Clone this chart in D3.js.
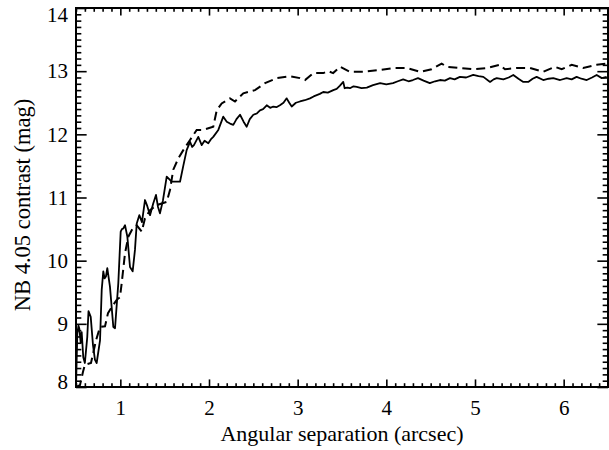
<!DOCTYPE html>
<html>
<head>
<meta charset="utf-8">
<script src="https://cdn.jsdelivr.net/npm/d3@7"></script>
<style>
  body { margin: 0; background: #fff; }
  svg { display: block; font-family: "Liberation Serif", "Times New Roman", serif; }
</style>
</head>
<body>
<svg id="chart" width="609" height="450"></svg>
<script>
// solid curve: separation (arcsec) / contrast (mag)
const solidSep = [0.50, 0.515, 0.528, 0.537, 0.553, 0.564, 0.582, 0.60, 0.627, 0.641, 0.666, 0.692, 0.714, 0.733,
  0.771, 0.79, 0.808, 0.822, 0.838, 0.853, 0.883, 0.921, 0.94, 0.977, 1.004, 1.018, 1.033, 1.053, 1.079, 1.109,
  1.139, 1.165, 1.185, 1.214, 1.244, 1.278, 1.30, 1.335, 1.37, 1.402, 1.425, 1.447, 1.48, 1.523, 1.579, 1.62,
  1.673, 1.71, 1.748, 1.786, 1.81, 1.83, 1.879, 1.918, 1.95, 1.992, 2.02, 2.048, 2.105, 2.161, 2.20, 2.237, 2.274,
  2.31, 2.35, 2.39, 2.425, 2.46, 2.50, 2.54, 2.575, 2.61, 2.651, 2.69, 2.725, 2.76, 2.80, 2.84, 2.876, 2.905,
  2.933, 2.98, 3.026, 3.08, 3.139, 3.18, 3.215, 3.25, 3.289, 3.34, 3.402, 3.44, 3.477, 3.514, 3.53, 3.56, 3.59,
  3.63, 3.666, 3.72, 3.78, 3.85, 3.93, 4.00, 4.075, 4.13, 4.19, 4.25, 4.30, 4.357, 4.42, 4.49, 4.55, 4.605, 4.66,
  4.718, 4.77, 4.83, 4.90, 4.98, 5.04, 5.094, 5.17, 5.21, 5.245, 5.32, 5.38, 5.432, 5.49, 5.545, 5.60, 5.65,
  5.695, 5.77, 5.83, 5.883, 5.96, 6.034, 6.09, 6.146, 6.20, 6.26, 6.32, 6.372, 6.43, 6.485];
const solidMag = [8.00, 8.85, 8.97, 8.93, 8.70, 8.87, 8.47, 8.38, 8.79, 9.20, 9.11, 8.66, 8.43, 8.38,
  8.74, 9.54, 9.83, 9.72, 9.75, 9.88, 9.59, 8.95, 8.93, 9.64, 10.46, 10.50, 10.51, 10.56, 10.38, 9.90,
  9.83, 10.17, 10.59, 10.72, 10.61, 10.96, 10.88, 10.72, 10.90, 11.04, 10.85, 10.75, 10.95, 11.33, 11.25, 11.25,
  11.25, 11.50, 11.75, 11.88, 11.80, 11.83, 11.96, 11.83, 11.90, 11.86, 11.92, 11.96, 12.07, 12.28, 12.20, 12.17, 12.15,
  12.24, 12.31, 12.20, 12.12, 12.24, 12.31, 12.33, 12.38, 12.40, 12.46, 12.42, 12.44, 12.43, 12.46, 12.50, 12.57, 12.50,
  12.44, 12.50, 12.52, 12.54, 12.57, 12.60, 12.62, 12.64, 12.67, 12.66, 12.70, 12.72, 12.77, 12.83, 12.73, 12.74, 12.73,
  12.76, 12.75, 12.73, 12.74, 12.78, 12.81, 12.79, 12.81, 12.84, 12.87, 12.84, 12.86, 12.89, 12.85, 12.81, 12.84, 12.86, 12.85,
  12.89, 12.87, 12.91, 12.90, 12.94, 12.92, 12.91, 12.83, 12.87, 12.89, 12.87, 12.90, 12.94, 12.88, 12.83, 12.83, 12.88,
  12.91, 12.86, 12.88, 12.89, 12.86, 12.89, 12.87, 12.91, 12.88, 12.86, 12.90, 12.94, 12.89, 12.91];

// dashed curve
const dashSep = [0.50, 0.545, 0.579, 0.60, 0.669, 0.726, 0.771, 0.827, 0.861, 0.906, 0.959, 0.996, 1.015, 1.053,
  1.09, 1.143, 1.185, 1.241, 1.278, 1.335, 1.41, 1.523, 1.56, 1.597, 1.654, 1.71, 1.786, 1.861, 1.936, 2.048,
  2.087, 2.143, 2.237, 2.293, 2.387, 2.519, 2.632, 2.763, 2.913, 3.026, 3.083, 3.176, 3.289, 3.345, 3.40, 3.477,
  3.59, 3.74, 3.93, 4.08, 4.23, 4.38, 4.51, 4.624, 4.68, 4.83, 4.98, 5.13, 5.28, 5.338, 5.47, 5.62, 5.77, 5.90,
  5.978, 6.09, 6.22, 6.372, 6.485];
const dashMag = [8.00, 8.03, 8.24, 8.35, 8.38, 8.74, 8.95, 8.96, 9.17, 9.27, 9.38, 9.42, 9.64, 10.12,
  10.38, 10.52, 10.56, 10.46, 10.67, 10.80, 10.88, 10.93, 11.12, 11.44, 11.62, 11.75, 11.91, 12.07, 12.07, 12.12,
  12.38, 12.49, 12.57, 12.52, 12.65, 12.70, 12.81, 12.89, 12.92, 12.89, 12.86, 12.97, 12.97, 13.00, 12.97, 13.07,
  12.99, 12.99, 13.02, 13.05, 13.05, 12.99, 13.03, 13.12, 13.07, 13.05, 13.03, 13.05, 13.10, 13.03, 13.05, 13.05, 12.99, 13.07,
  13.03, 13.10, 13.05, 13.10, 13.12];

const xTicks = [1, 2, 3, 4, 5, 6];
const yTicks = [8, 9, 10, 11, 12, 13, 14];

const margin = { top: 8, right: 1, bottom: 63, left: 76 };
const width = 609 - margin.left - margin.right;
const height = 450 - margin.top - margin.bottom;

const svg = d3.select('#chart');
const g = svg.append('g').attr('transform', `translate(${margin.left},${margin.top})`);

const x = d3.scaleLinear().domain([0.5, 6.5]).range([0, width]);
const y = d3.scaleLinear().domain([8, 14]).range([height, 0]);

// IDL-like tick lengths: 2% of the plot size, minor ones half
const xMajLen = 0.02 * height, yMajLen = 0.02 * width;
const xMinor = d3.range(0.5, 6.5001, 0.1).filter(v => Math.abs(v - Math.round(v)) > 1e-6);
const yMinor = d3.range(8, 14.0001, 0.1).filter(v => Math.abs(v - Math.round(v)) > 1e-6);

function tickAxis(axisFn, scale, values, len, labels, pad) {
  return axisFn(scale).tickValues(values).tickSizeInner(-len).tickSizeOuter(0)
    .tickPadding(pad).tickFormat(labels ? d3.format('d') : '');
}

const axes = [
  [d3.axisBottom, x, xTicks, xMajLen, true, `translate(0,${height})`, 13],
  [d3.axisBottom, x, xMinor, xMajLen / 2, false, `translate(0,${height})`, 0],
  [d3.axisTop, x, xTicks, xMajLen, false, 'translate(0,0)', 0],
  [d3.axisTop, x, xMinor, xMajLen / 2, false, 'translate(0,0)', 0],
  [d3.axisLeft, y, yTicks, yMajLen, true, 'translate(0,0)', 8],
  [d3.axisLeft, y, yMinor, yMajLen / 2, false, 'translate(0,0)', 0],
  [d3.axisRight, y, yTicks, yMajLen, false, `translate(${width},0)`, 0],
  [d3.axisRight, y, yMinor, yMajLen / 2, false, `translate(${width},0)`, 0],
];
axes.forEach(([fn, sc, vals, len, lab, tr, pad]) => {
  const ag = g.append('g').attr('transform', tr).call(tickAxis(fn, sc, vals, len, lab, pad));
  ag.select('.domain').remove();
  ag.selectAll('line').attr('stroke', '#000').attr('stroke-width', 1.6);
  ag.selectAll('text').attr('fill', '#000').style('font-size', '21px')
    .style('font-family', '"Liberation Serif", serif');
});

// end labels sit inside the frame like the original
g.selectAll('text').filter(function() { return this.textContent === '14'; }).attr('dy', '0.65em');
g.selectAll('text').filter(function() { return this.textContent === '8'; }).attr('dy', '0.05em');

g.append('rect')
  .attr('width', width).attr('height', height)
  .attr('fill', 'none').attr('stroke', '#000').attr('stroke-width', 2);

const line = d3.line().x(d => x(d[0])).y(d => y(d[1]));

g.append('path')
  .datum(d3.zip(dashSep, dashMag))
  .attr('d', line)
  .attr('fill', 'none').attr('stroke', '#000').attr('stroke-width', 2)
  .attr('stroke-dasharray', '9,5');

g.append('path')
  .datum(d3.zip(solidSep, solidMag))
  .attr('d', line)
  .attr('fill', 'none').attr('stroke', '#000').attr('stroke-width', 1.8)
  .attr('stroke-linejoin', 'round');

svg.append('text')
  .attr('x', margin.left + width / 2).attr('y', 440.5)
  .attr('text-anchor', 'middle')
  .style('font-size', '22px')
  .text('Angular separation (arcsec)');

svg.append('text')
  .attr('transform', `translate(30,205) rotate(-90)`)
  .attr('text-anchor', 'middle')
  .style('font-size', '22.5px')
  .text('NB 4.05 contrast (mag)');
</script>
</body>
</html>
